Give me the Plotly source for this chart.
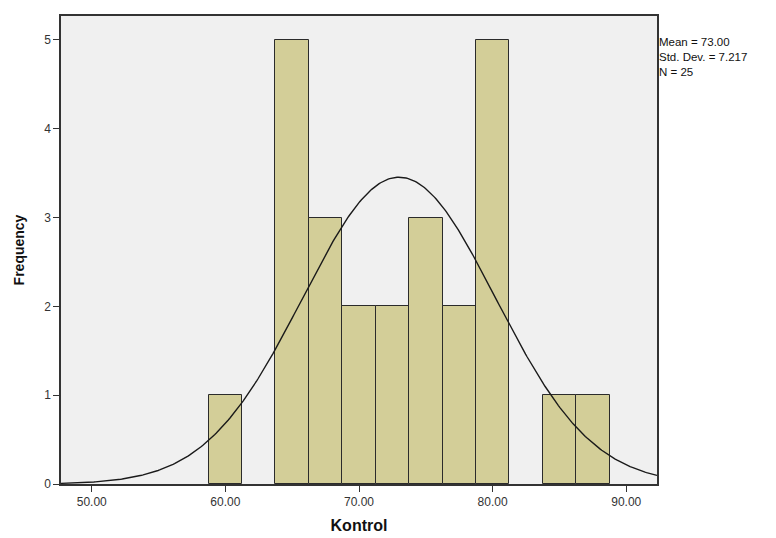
import numpy as np
import plotly.graph_objects as go

# Data
bin_centers = [60.0, 65.0, 67.5, 70.0, 72.5, 75.0, 77.5, 80.0, 85.0, 87.5]
counts = [1, 5, 3, 2, 2, 3, 2, 5, 1, 1]
bin_width = 2.5
mean_val = 73.00
std_val = 7.217
n_val = 25
x_ticks = [50, 60, 70, 80, 90]
y_ticks = [0, 1, 2, 3, 4, 5]

# Fitted normal curve (SPSS-style overlay) from the reported statistics
xs = np.linspace(47.7, 92.3, 400)
ys = n_val * bin_width / (std_val * np.sqrt(2 * np.pi)) * np.exp(-0.5 * ((xs - mean_val) / std_val) ** 2)

fig = go.Figure()
fig.add_trace(go.Bar(
    x=bin_centers, y=counts, width=bin_width,
    marker=dict(color="#D3CE98", line=dict(color="#2b2b2b", width=1)),
    hoverinfo="x+y", showlegend=False,
))
fig.add_trace(go.Scatter(
    x=xs, y=ys, mode="lines",
    line=dict(color="#1a1a1a", width=1.4),
    hoverinfo="skip", showlegend=False,
))

fig.update_layout(
    width=768, height=530,
    margin=dict(l=53, r=119, t=6, b=47),
    paper_bgcolor="white",
    plot_bgcolor="#F0F0F0",
    font=dict(family="Liberation Sans, Arial, sans-serif", color="#222222", size=11),
    bargap=0,
    xaxis=dict(
        range=[47.7, 92.3],
        tickvals=x_ticks,
        ticktext=[f"{v:.2f}" for v in x_ticks],
        ticks="outside", ticklen=6, tickcolor="#333333", tickwidth=1,
        showline=True, linecolor="#333333", linewidth=1.5, mirror=True,
        showgrid=False, zeroline=False,
        tickfont=dict(size=12, color="#333333"),
        title=dict(text="<b>Kontrol</b>", font=dict(size=16, color="#111111"), standoff=12),
    ),
    yaxis=dict(
        range=[0, 5.27],
        tickvals=y_ticks,
        ticks="outside", ticklen=6, tickcolor="#333333", tickwidth=1,
        showline=True, linecolor="#333333", linewidth=1.5, mirror=True,
        showgrid=False, zeroline=False,
        tickfont=dict(size=12, color="#333333"),
        title=dict(text="<b>Frequency</b>", font=dict(size=14, color="#111111"), standoff=16),
    ),
)

fig.add_annotation(
    xref="paper", yref="paper", x=1.0, y=0.962, xanchor="left", yanchor="top",
    text=f"Mean = {mean_val:.2f}<br>Std. Dev. = {std_val:.3f}<br>N = {n_val}",
    showarrow=False, align="left",
    font=dict(size=11.5, color="#111111", family="Liberation Sans, Arial, sans-serif"),
)

fig.write_html("out.html")
